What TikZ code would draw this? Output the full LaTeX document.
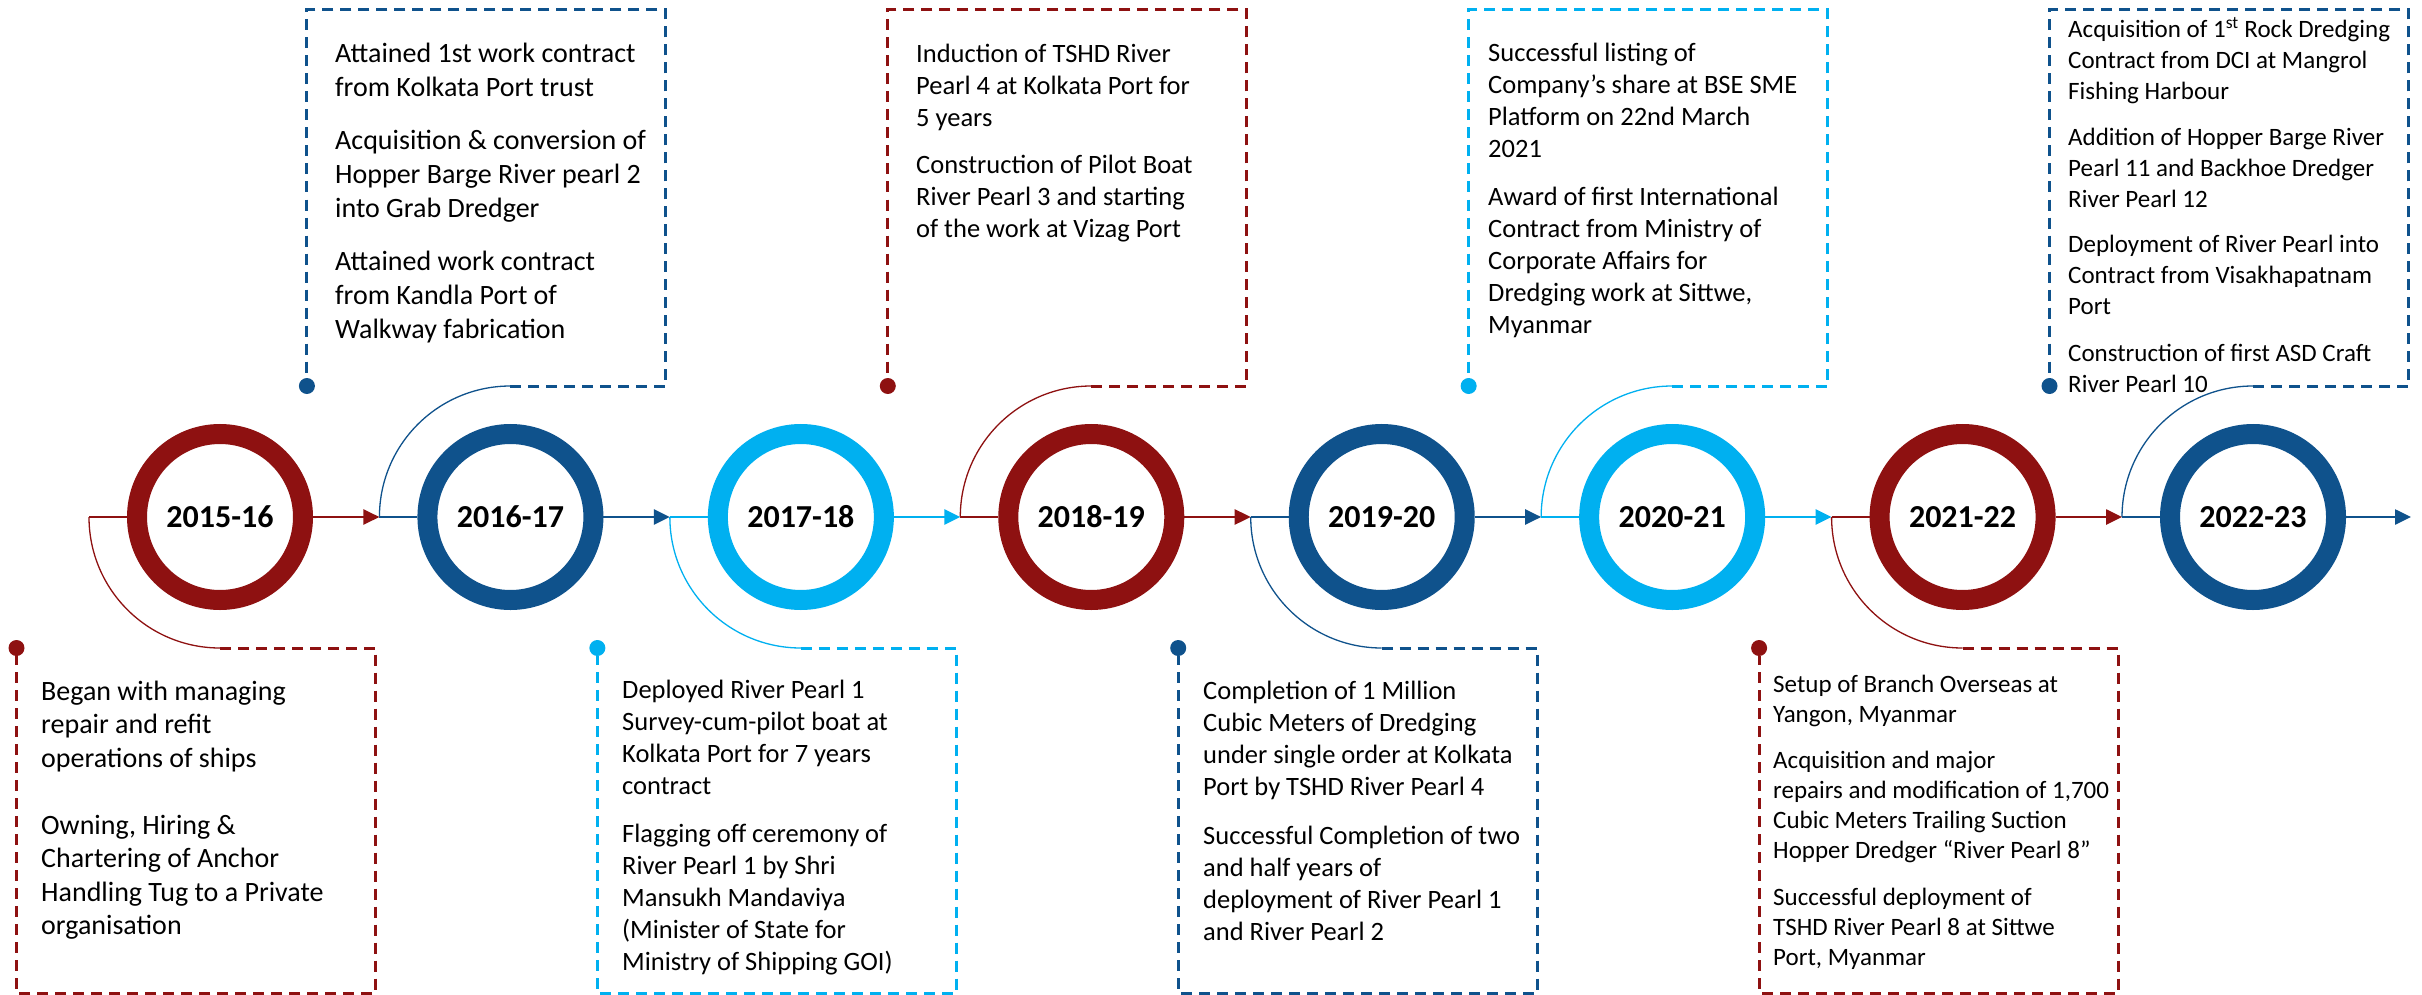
\documentclass[tikz,border=0pt]{standalone}
\usepackage{fontspec}
\setmainfont{Carlito}
\usetikzlibrary{arrows.meta}

\definecolor{cRed}{RGB}{142,17,17}
\definecolor{cBlue}{RGB}{15,82,140}
\definecolor{cLight}{RGB}{0,176,240}

\tikzset{
  yearring/.style={circle, minimum size=166pt, line width=20pt, inner sep=0pt,
    outer sep=10pt, fill=white, font=\fontsize{32}{38}\selectfont\bfseries},
  mainline/.style={line width=2.5pt},
  thinarc/.style={line width=1.3pt},
  dashbox/.style={line width=3pt, dash pattern=on 11pt off 7pt},
  pin/.style={circle, inner sep=0pt, minimum size=16pt},
  note/.style={anchor=base west, inner sep=0pt},
  tip/.style={-{Triangle[length=16pt,width=15pt]}}
}

\begin{document}
\begin{tikzpicture}[x=1pt, y=-1pt]
\fill[white] (0,0) rectangle (2422,995);
\useasboundingbox (0,0) rectangle (2422,995);

% year rings, stubs, callout arcs and dashed frames
\foreach \i/\yr/\clr/\sd in {1/2015-16/cRed/1, 2/2016-17/cBlue/-1,
    3/2017-18/cLight/1, 4/2018-19/cRed/-1, 5/2019-20/cBlue/1,
    6/2020-21/cLight/-1, 7/2021-22/cRed/1, 8/2022-23/cBlue/-1} {
  \pgfmathsetmacro\cx{220+290.43*(\i-1)}
  \pgfmathsetmacro\ny{517+131*\sd}
  \pgfmathsetmacro\fy{501.5+491.5*\sd}
  \pgfmathsetmacro\ky{72.4*\sd}
  \node[yearring, draw=\clr] (c\i) at (\cx,517) {\yr};
  \coordinate (s\i) at (\cx-131,517);
  \coordinate (e\i) at (\cx,\ny);
  \coordinate (nr\i) at (\cx+155.5,\ny);
  \coordinate (fr\i) at (\cx+155.5,\fy);
  \coordinate (fl\i) at (\cx-203.5,\fy);
  \node[pin, fill=\clr] (d\i) at (\cx-203.5,\ny) {};
  \draw[mainline, draw=\clr] (s\i) -- (c\i.west);
  \draw[thinarc, draw=\clr] (s\i) .. controls +(0,\ky) and +(-72.4,0) .. (e\i);
  \draw[dashbox, draw=\clr] (e\i) -- (nr\i) -- (fr\i) -- (fl\i) -- (d\i);
}

% timeline arrows
\foreach \i/\j/\clr in {1/2/cRed, 2/3/cBlue, 3/4/cLight, 4/5/cRed,
    5/6/cBlue, 6/7/cLight, 7/8/cRed}
  \draw[mainline, tip, draw=\clr] (c\i.east) -- (s\j);
\coordinate (tail) at (2411,517);
\draw[mainline, tip, draw=cBlue] (c8.east) -- (tail);

% milestone texts
\node[note, font=\fontsize{28}{33.5}\selectfont] (t1) at (41,700)
  {\begin{tabular}[t]{@{}l@{}}Began with managing\\ repair and refit\\
   operations of ships\\ \\ Owning, Hiring \&\\ Chartering of Anchor\\
   Handling Tug to a Private\\ organisation\end{tabular}};

\node[note, font=\fontsize{28}{34}\selectfont] (t2) at (335,63)
  {\begin{tabular}[t]{@{}l@{}}Attained 1st work contract\\ from Kolkata Port trust\\[19pt]
   Acquisition \& conversion of\\ Hopper Barge River pearl 2\\ into Grab Dredger\\[19pt]
   Attained work contract\\ from Kandla Port of\\ Walkway fabrication\end{tabular}};

\node[note, font=\fontsize{26.5}{32}\selectfont] (t3) at (622,698)
  {\begin{tabular}[t]{@{}l@{}}Deployed River Pearl 1\\ Survey-cum-pilot boat at\\
   Kolkata Port for 7 years\\ contract\\[16pt]
   Flagging off ceremony of\\ River Pearl 1 by Shri\\ Mansukh Mandaviya\\
   (Minister of State for\\ Ministry of Shipping GOI)\end{tabular}};

\node[note, font=\fontsize{26.5}{32}\selectfont] (t4) at (916,63)
  {\begin{tabular}[t]{@{}l@{}}Induction of TSHD River\\ Pearl 4 at Kolkata Port for\\
   5 years\\[15pt] Construction of Pilot Boat\\ River Pearl 3 and starting\\
   of the work at Vizag Port\end{tabular}};

\node[note, font=\fontsize{26.5}{32}\selectfont] (t5) at (1203,699)
  {\begin{tabular}[t]{@{}l@{}}Completion of 1 Million\\ Cubic Meters of Dredging\\
   under single order at Kolkata\\ Port by TSHD River Pearl 4\\[17pt]
   Successful Completion of two\\ and half years of\\
   deployment of River Pearl 1\\ and River Pearl 2\end{tabular}};

\node[note, font=\fontsize{26.5}{32}\selectfont] (t6) at (1488,62)
  {\begin{tabular}[t]{@{}l@{}}Successful listing of\\ Company’s share at BSE SME\\
   Platform on 22nd March\\ 2021\\[16pt]
   Award of first International\\ Contract from Ministry of\\
   Corporate Affairs for\\ Dredging work at Sittwe,\\ Myanmar\end{tabular}};

\node[note, font=\fontsize{25}{30}\selectfont] (t7) at (1773,692)
  {\begin{tabular}[t]{@{}l@{}}Setup of Branch Overseas at\\ Yangon, Myanmar\\[16pt]
   Acquisition and major\\ repairs and modification of 1,700\\
   Cubic Meters Trailing Suction\\ Hopper Dredger “River Pearl 8”\\[17pt]
   Successful deployment of\\ TSHD River Pearl 8 at Sittwe\\
   Port, Myanmar\end{tabular}};

\node[note, font=\fontsize{25}{31}\selectfont] (t8) at (2068,38)
  {\begin{tabular}[t]{@{}l@{}}Acquisition of 1\textsuperscript{st} Rock Dredging\\
   Contract from DCI at Mangrol\\ Fishing Harbour\\[15pt]
   Addition of Hopper Barge River\\ Pearl 11 and Backhoe Dredger\\
   River Pearl 12\\[14pt] Deployment of River Pearl into\\
   Contract from Visakhapatnam\\ Port\\[16pt]
   Construction of first ASD Craft\\ River Pearl 10\end{tabular}};
\end{tikzpicture}
\end{document}
